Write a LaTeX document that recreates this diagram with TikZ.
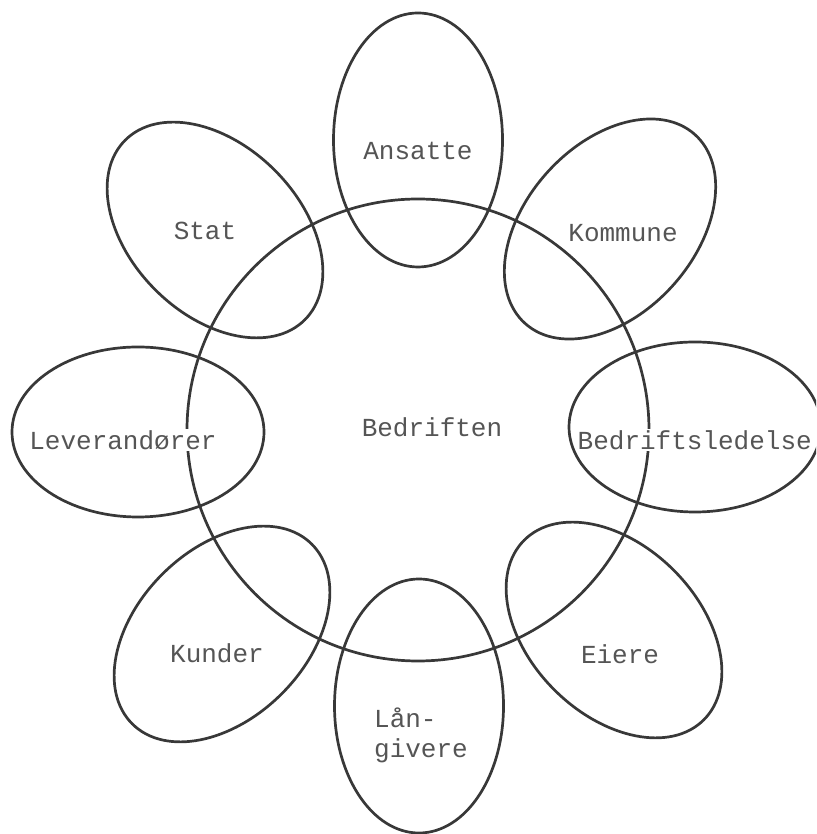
\documentclass[tikz,border=0pt]{standalone}
\usepackage{fontspec}
\setmonofont{Liberation Mono}
\definecolor{linec}{HTML}{383838}
\definecolor{textc}{HTML}{555555}
\begin{document}
\begin{tikzpicture}[x=1pt,y=1pt,
  ring/.style={draw=linec, line width=2.7pt},
  lbl/.style={font=\fontsize{26}{30}\selectfont\ttfamily, text=textc, inner sep=1.5pt, fill=white}]
\useasboundingbox (0,0) rectangle (816,834);
\clip (0,0) rectangle (816,834);
% centre circle
\coordinate (c) at (418,404);
\draw[ring] (c) circle[radius=231];
% vertical ellipses
\coordinate (eA) at (418,694);
\coordinate (eL) at (419,128);
\draw[ring] (eA) ellipse[x radius=84.5, y radius=127];
\draw[ring] (eL) ellipse[x radius=84.5, y radius=127];
% horizontal ellipses
\coordinate (eV) at (138,402);
\coordinate (eB) at (695,407);
\draw[ring] (eV) ellipse[x radius=126, y radius=85];
\draw[ring] (eB) ellipse[x radius=126, y radius=85];
% diagonal ellipses
\coordinate (eK) at (610,605);
\coordinate (eS) at (215,604);
\coordinate (eKu) at (222,200);
\coordinate (eE) at (614,204);
\draw[ring, rotate around={48:(eK)}] (eK) ellipse[x radius=127, y radius=84.5];
\draw[ring, rotate around={-45:(eS)}] (eS) ellipse[x radius=127, y radius=84.5];
\draw[ring, rotate around={45:(eKu)}] (eKu) ellipse[x radius=127, y radius=84.5];
\draw[ring, rotate around={-45:(eE)}] (eE) ellipse[x radius=127, y radius=84.5];
% labels
\node[lbl] (tBed) at (432,407) {Bedriften};
\node[lbl] (tAns) at (418,683) {Ansatte};
\node[lbl] (tKom) at (623,601) {Kommune};
\node[lbl] (tSta) at (205,603) {Stat};
\node[lbl] (tLev) at (123,394) {Leverandører};
\node[lbl, anchor=west] (tBle) at (576,394) {Bedriftsledelse};
\node[lbl] (tKun) at (217,181) {Kunder};
\node[lbl] (tEie) at (620,180) {Eiere};
\node[lbl, align=left] (tLan) at (421,99) {Lån-\\givere};
\end{tikzpicture}
\end{document}
